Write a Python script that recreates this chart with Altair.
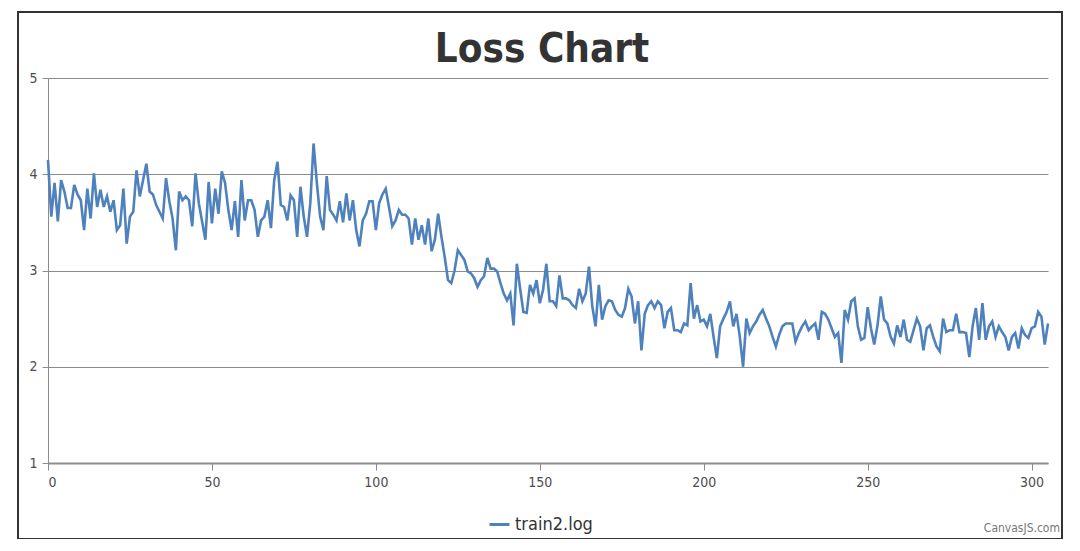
import altair as alt
import pandas as pd

# ---- data ----
loss = [
    # 0-29
    4.15, 3.56, 3.91, 3.51, 3.94, 3.82, 3.65, 3.65, 3.89, 3.79,
    3.73, 3.42, 3.85, 3.54, 4.01, 3.66, 3.84, 3.66, 3.77, 3.61,
    3.73, 3.42, 3.47, 3.85, 3.28, 3.56, 3.61, 4.04, 3.77, 3.94,
    # 30-59
    4.11, 3.82, 3.79, 3.68, 3.61, 3.54, 3.96, 3.72, 3.54, 3.21,
    3.82, 3.73, 3.77, 3.73, 3.46, 4.01, 3.70, 3.51, 3.32, 3.92,
    3.49, 3.85, 3.59, 4.03, 3.91, 3.63, 3.42, 3.72, 3.35, 3.94,
    # 60-90
    3.52, 3.73, 3.73, 3.63, 3.35, 3.52, 3.56, 3.73, 3.44, 3.94,
    4.13, 3.68, 3.66, 3.52, 3.78, 3.73, 3.35, 3.87, 3.56, 3.35,
    3.70, 4.32, 3.91, 3.56, 3.42, 3.98, 3.63, 3.58, 3.52, 3.72,
    3.50,
    # 91-121
    3.80, 3.52, 3.73, 3.42, 3.25, 3.52, 3.59, 3.72, 3.72, 3.42,
    3.70, 3.79, 3.85, 3.66, 3.46, 3.52, 3.63, 3.58, 3.58, 3.54,
    3.27, 3.54, 3.32, 3.47, 3.27, 3.54, 3.20, 3.32, 3.59, 3.35,
    3.14,
    # 122-148
    2.90, 2.87, 3.00, 3.21, 3.16, 3.11, 2.99, 2.97, 2.92, 2.83,
    2.90, 2.94, 3.13, 3.02, 3.02, 2.99, 2.87, 2.76, 2.69, 2.76,
    2.43, 3.07, 2.81, 2.57, 2.56, 2.85, 2.76,
    # 149-179
    2.90, 2.66, 2.80, 3.07, 2.68, 2.68, 2.63, 2.95, 2.71, 2.71,
    2.69, 2.64, 2.61, 2.81, 2.68, 2.76, 3.04, 2.63, 2.42, 2.85,
    2.49, 2.63, 2.69, 2.68, 2.59, 2.54, 2.52, 2.61, 2.81, 2.73,
    2.45,
    # 180-208
    2.68, 2.17, 2.55, 2.64, 2.68, 2.61, 2.68, 2.64, 2.40, 2.57,
    2.61, 2.38, 2.38, 2.36, 2.45, 2.43, 2.87, 2.50, 2.64, 2.47,
    2.49, 2.42, 2.55, 2.31, 2.09, 2.42, 2.50, 2.57, 2.68,
    # 209-240
    2.42, 2.55, 2.31, 2.00, 2.50, 2.35, 2.42, 2.47, 2.54, 2.59,
    2.50, 2.42, 2.31, 2.21, 2.33, 2.42, 2.45, 2.45, 2.45, 2.26,
    2.35, 2.42, 2.47, 2.38, 2.42, 2.45, 2.28, 2.57, 2.55, 2.49,
    2.40, 2.31,
    # 241-265
    2.35, 2.04, 2.59, 2.49, 2.68, 2.71, 2.42, 2.28, 2.30, 2.62,
    2.40, 2.23, 2.43, 2.73, 2.49, 2.45, 2.31, 2.24, 2.43, 2.31,
    2.49, 2.28, 2.26, 2.38, 2.50,
    # 266-305
    2.42, 2.17, 2.40, 2.43, 2.31, 2.21, 2.16, 2.50, 2.36, 2.38,
    2.38, 2.55, 2.36, 2.36, 2.35, 2.10, 2.42, 2.61, 2.28, 2.66,
    2.28, 2.42, 2.47, 2.31, 2.42, 2.36, 2.31, 2.17, 2.31, 2.35,
    2.19, 2.40, 2.33, 2.30, 2.40, 2.42, 2.57, 2.52, 2.23, 2.45,
]
iteration = list(range(len(loss)))
series_name = "train2.log"
x_ticks = [0, 50, 100, 150, 200, 250, 300]
y_ticks = [1, 2, 3, 4, 5]
x_domain = [0, 305]
y_domain = [1, 5]
title_text = "Loss Chart"
credit_text = "CanvasJS.com"

df = pd.DataFrame({"iteration": iteration, "loss": loss,
                   "series": [series_name] * len(loss)})

W, H = 1000, 385
LABEL_FONT = "'DejaVu Sans Condensed', 'Liberation Sans Narrow', Roboto, sans-serif"
AX_GRAY = "#8c8c8c"

frame = alt.Chart(pd.DataFrame({"k": [0]})).mark_rect(
    fillOpacity=0, stroke="#333333", strokeWidth=2
).encode(
    x=alt.value(-30), x2=alt.value(1014), y=alt.value(-66), y2=alt.value(461)
)

line = alt.Chart(df).mark_line(strokeWidth=2.6).encode(
    x=alt.X("iteration:Q",
            scale=alt.Scale(domain=x_domain, nice=False, zero=False),
            axis=alt.Axis(values=x_ticks, title=None, grid=False,
                          domainColor=AX_GRAY, domainWidth=2,
                          tickColor=AX_GRAY, tickSize=7, tickWidth=1,
                          labelFont=LABEL_FONT, labelFontSize=14,
                          labelColor="#4d4d4d", labelPadding=5)),
    y=alt.Y("loss:Q",
            scale=alt.Scale(domain=y_domain, nice=False, zero=False),
            axis=alt.Axis(values=y_ticks, title=None, grid=True,
                          gridColor=AX_GRAY, gridWidth=1,
                          domainColor=AX_GRAY, domainWidth=1,
                          tickColor=AX_GRAY, tickSize=6,
                          labelFont=LABEL_FONT, labelFontSize=14,
                          labelColor="#4d4d4d", labelPadding=5)),
    color=alt.Color("series:N",
                    scale=alt.Scale(range=["#4F81BC"]),
                    legend=alt.Legend(orient="none", legendX=440, legendY=435,
                                      title=None, symbolType="stroke",
                                      symbolStrokeWidth=3, symbolSize=400,
                                      labelFont=LABEL_FONT, labelFontSize=18,
                                      labelColor="#333333")),
)

title = alt.Chart(pd.DataFrame({"t": [title_text]})).mark_text(
    align="center", baseline="alphabetic", fontSize=40, fontWeight="bold",
    font=LABEL_FONT, color="#333333"
).encode(x=alt.value(494), y=alt.value(-16), text="t:N")

credit = alt.Chart(pd.DataFrame({"t": [credit_text]})).mark_text(
    align="right", baseline="middle", fontSize=12, font=LABEL_FONT, color="#777777"
).encode(x=alt.value(1012), y=alt.value(450), text="t:N")

chart = alt.layer(frame, line, title, credit).properties(
    width=W, height=H,
    autosize=alt.AutoSizeParams(type="none"),
    padding={"left": 40, "top": 70, "right": 24, "bottom": 76},
    background="white",
).configure_view(strokeWidth=0)

chart.save("out.html", embed_options={"renderer": "svg", "actions": False})
